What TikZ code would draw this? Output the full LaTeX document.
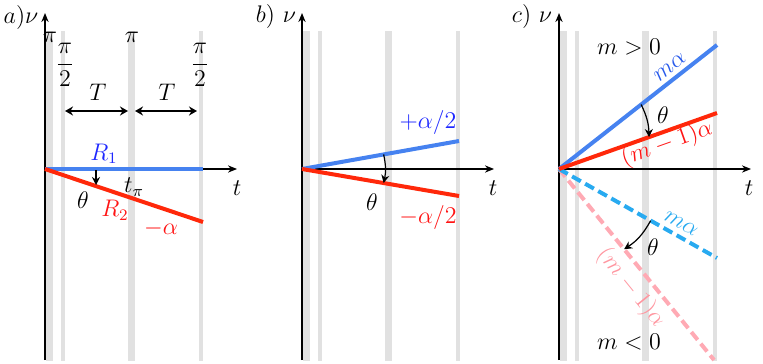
\documentclass[tikz,border=0pt]{standalone}
\usetikzlibrary{arrows.meta,calc}
\definecolor{lblue}{RGB}{70,130,240}
\definecolor{lred}{RGB}{255,40,10}
\definecolor{tblue}{RGB}{30,40,255}
\definecolor{tred}{RGB}{255,20,20}
\definecolor{mblue}{RGB}{40,90,235}
\definecolor{dblue}{RGB}{40,170,240}
\definecolor{lpink}{RGB}{255,170,180}
\definecolor{tpink}{RGB}{255,150,160}
\definecolor{bargray}{RGB}{225,225,225}
\begin{document}
\begin{tikzpicture}[x=0.5pt,y=-0.5pt,
  font=\fontsize{12}{14}\selectfont,
  bar/.style={fill=bargray,draw=none},
  axis/.style={line width=0.7pt,-{Stealth[length=4.5pt,width=3.6pt]}},
  tarrow/.style={line width=0.8pt,{Stealth[length=4pt,width=4.5pt]}-{Stealth[length=4pt,width=4.5pt]}},
  rot/.style={line width=0.6pt,-{Stealth[length=4pt,width=4pt]}},
  thick line/.style={line width=2pt},
  dashline/.style={line width=2pt,dash pattern=on 5pt off 2.5pt},
  lbl/.style={inner sep=0pt}]
\useasboundingbox (0,0) rectangle (763,363);
% bars and axes
\foreach \ax/\i in {45/a,302/b,559/c}{
  \fill[bar] (\ax+1,31) rectangle (\ax+8,361);
  \fill[bar] (\ax+15.5,31) rectangle (\ax+19.5,361);
  \fill[bar] (\ax+83,31) rectangle (\ax+90,361);
  \fill[bar] (\ax+154,31) rectangle (\ax+158,361);
  \coordinate (o\i) at (\ax,169);
  \coordinate (vt\i) at (\ax,13);
  \coordinate (vb\i) at (\ax,360);
  \coordinate (ht\i) at (\ax+192,169);
  \draw[axis] (vb\i) -- (vt\i);
  \draw[axis] (o\i) -- (ht\i);
}
% ---------- panel a ----------
\coordinate (a1e) at (203,169);
\coordinate (a2e) at (203,222);
\draw[thick line,lblue] (oa) -- (a1e);
\draw[thick line,lred] (oa) -- (a2e);
\coordinate (arA) at (96,170);
\coordinate (arB) at (96,185);
\draw[rot] (arA) -- (arB);
\coordinate (T1a) at (65,111);
\coordinate (T1b) at (128,111);
\coordinate (T2a) at (135,111);
\coordinate (T2b) at (197,111);
\draw[tarrow] (T1a) -- (T1b);
\draw[tarrow] (T2a) -- (T2b);
\node[lbl] (Ta) at (98,92) {$T$};
\node[lbl] (Tb) at (167,92) {$T$};
\node[lbl] (pia) at (50,37) {$\pi$};
\node[lbl] (pib) at (132,37) {$\pi$};
\node[lbl] (pic) at (65,65) {$\displaystyle\frac{\pi}{2}$};
\node[lbl] (pid) at (200,65) {$\displaystyle\frac{\pi}{2}$};
\node[lbl] (laba) at (21,18) {$a)\nu$};
\node[lbl,text=tblue] (R1) at (104,154) {$R_1$};
\node[lbl] (ta) at (237,188) {$t$};
\node[lbl] (tpi) at (134,187) {$t_\pi$};
\node[lbl] (tha) at (83,200) {$\theta$};
\node[lbl,text=tred] (R2) at (115,210) {$R_2$};
\node[lbl,text=tred] (ma) at (161,228) {$-\alpha$};
% ---------- panel b ----------
\coordinate (b1e) at (459,141);
\coordinate (b2e) at (459,196);
\draw[thick line,lblue] (ob) -- (b1e);
\draw[thick line,lred] (ob) -- (b2e);
\coordinate (brA) at ($(ob)!0.52!(b1e)$);
\coordinate (brB) at ($(ob)!0.52!(b2e)$);
\draw[rot] (brA) to[bend left=12] (brB);
\node[lbl,text=tblue] (pb) at (428,123) {$+\alpha/2$};
\node[lbl,text=tred] (mb) at (428,217) {$-\alpha/2$};
\node[lbl] (thb) at (372,202) {$\theta$};
\node[lbl] (tb) at (493,188) {$t$};
\node[lbl] (labb) at (276,17) {$b)~\nu$};
% ---------- panel c ----------
\coordinate (c1e) at (717,45);
\coordinate (c2e) at (717,113);
\coordinate (c3e) at (717,258);
\coordinate (c4e) at (714,360);
\draw[dashline,lpink] (oc) -- (c4e);
\draw[dashline,dblue] (oc) -- (c3e);
\draw[thick line,lblue] (oc) -- (c1e);
\draw[thick line,lred] (oc) -- (c2e);
\coordinate (crA) at ($(oc)!0.52!(c1e)$);
\coordinate (crB) at ($(oc)!0.57!(c2e)$);
\draw[rot] (crA) to[bend left=12] (crB);
\coordinate (crC) at ($(oc)!0.58!(c3e)$);
\coordinate (crD) at ($(oc)!0.42!(c4e)$);
\draw[rot] (crC) to[bend left=14] (crD);
\node[lbl,text=mblue,rotate=38] (mc1) at (670,67) {$m\alpha$};
\node[lbl,text=tred,rotate=19.5] (mc2) at (667,144) {$(m-1)\alpha$};
\node[lbl,text=dblue,rotate=-29.4] (mc3) at (681,224) {$m\alpha$};
\node[lbl,text=tpink,rotate=-51] (mc4) at (631,288) {$(m-1)\alpha$};
\node[lbl] (thc1) at (663,115) {$\theta$};
\node[lbl] (thc2) at (653,247) {$\theta$};
\node[lbl] (mpos) at (629,47) {$m>0$};
\node[lbl] (mneg) at (629,342) {$m<0$};
\node[lbl] (tc) at (749,188) {$t$};
\node[lbl] (labc) at (532,17) {$c)~\nu$};
\end{tikzpicture}
\end{document}
